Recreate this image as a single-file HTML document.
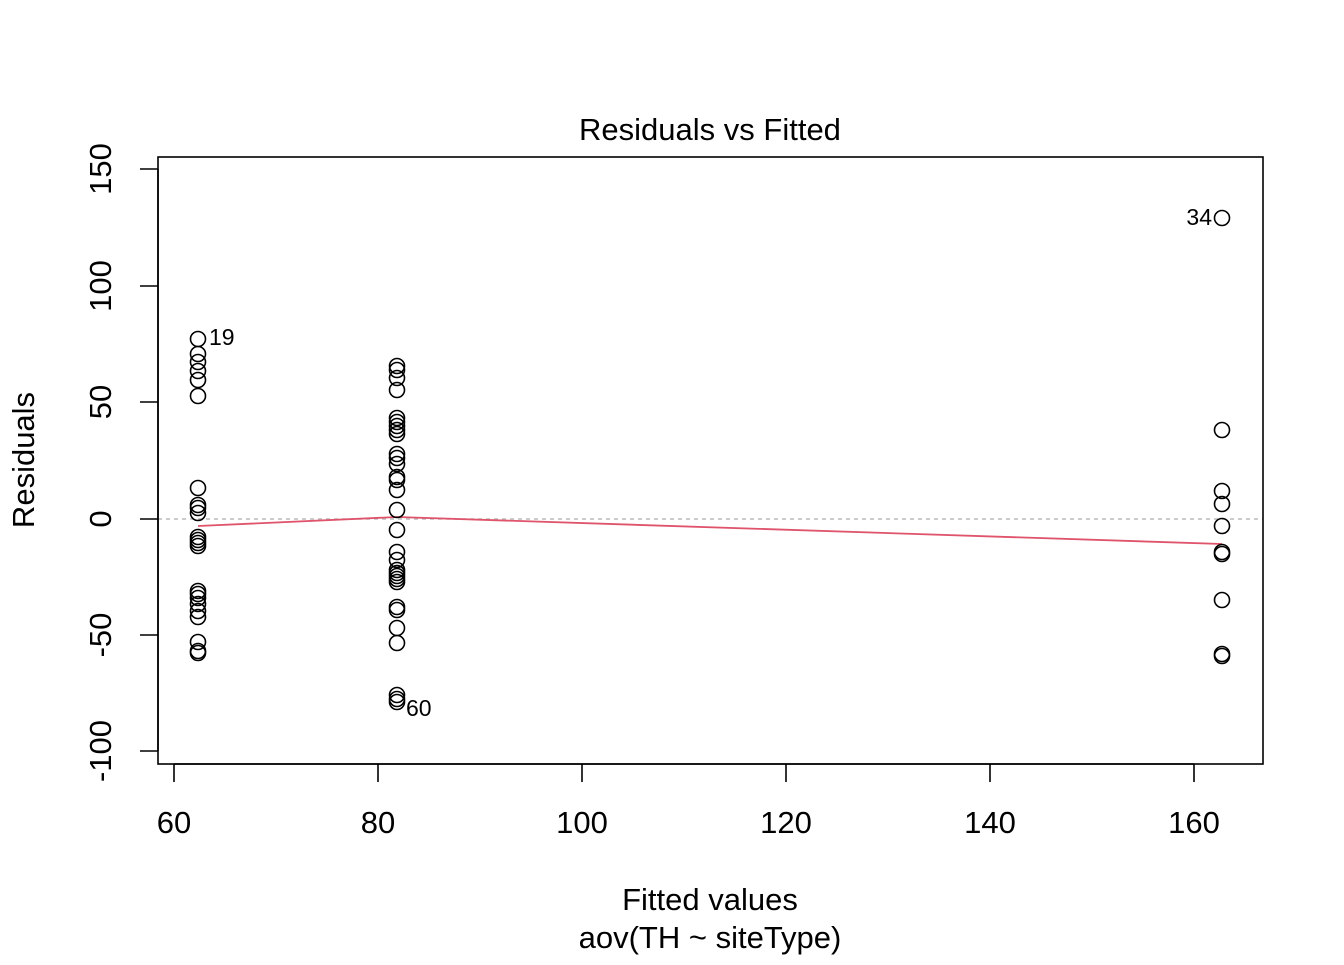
<!DOCTYPE html>
<html><head><meta charset="utf-8"><style>body{margin:0;background:#fff}</style></head><body>
<svg width="1344" height="960" xmlns="http://www.w3.org/2000/svg" font-family="Liberation Sans, Arial, sans-serif">
<rect width="1344" height="960" fill="#fff"/>
<text x="710" y="140" font-size="31" text-anchor="middle">Residuals vs Fitted</text>
<line x1="158" y1="519" x2="1263" y2="519" stroke="#bbb" stroke-width="1.5" stroke-dasharray="4,4"/>
<polyline points="198,526 397,517 1222,544" fill="none" stroke="#DF536B" stroke-width="1.8"/>
<rect x="158" y="157" width="1105" height="607" fill="none" stroke="#000" stroke-width="1.6"/>
<g stroke="#000" stroke-width="1.6">
<line x1="174" y1="764" x2="1194" y2="764"/>
<line x1="174" y1="764" x2="174" y2="782"/><line x1="378" y1="764" x2="378" y2="782"/><line x1="582" y1="764" x2="582" y2="782"/><line x1="786" y1="764" x2="786" y2="782"/><line x1="990" y1="764" x2="990" y2="782"/><line x1="1194" y1="764" x2="1194" y2="782"/>
<line x1="158" y1="169" x2="158" y2="751"/>
<line x1="158" y1="169" x2="140" y2="169"/><line x1="158" y1="286" x2="140" y2="286"/><line x1="158" y1="402" x2="140" y2="402"/><line x1="158" y1="519" x2="140" y2="519"/><line x1="158" y1="635" x2="140" y2="635"/><line x1="158" y1="751" x2="140" y2="751"/>
</g>
<g font-size="31" text-anchor="middle">
<text x="174" y="833">60</text><text x="378" y="833">80</text><text x="582" y="833">100</text><text x="786" y="833">120</text><text x="990" y="833">140</text><text x="1194" y="833">160</text>
<text x="710" y="910">Fitted values</text>
<text x="710" y="948">aov(TH ~ siteType)</text>
</g>
<g font-size="31" text-anchor="middle">
<text transform="translate(111,169) rotate(-90)">150</text>
<text transform="translate(111,286) rotate(-90)">100</text>
<text transform="translate(111,402) rotate(-90)">50</text>
<text transform="translate(111,519) rotate(-90)">0</text>
<text transform="translate(111,635) rotate(-90)">-50</text>
<text transform="translate(111,751) rotate(-90)">-100</text>
<text transform="translate(34,460) rotate(-90)">Residuals</text>
</g>
<g font-size="23">
<text x="209" y="345">19</text>
<text x="406" y="716">60</text>
<text x="1212" y="225" text-anchor="end">34</text>
</g>
<g fill="none" stroke="#000" stroke-width="1.6">
<circle cx="198" cy="339" r="7.5"/><circle cx="198" cy="354" r="7.5"/><circle cx="198" cy="362" r="7.5"/><circle cx="198" cy="371" r="7.5"/><circle cx="198" cy="380" r="7.5"/><circle cx="198" cy="396" r="7.5"/><circle cx="198" cy="488" r="7.5"/><circle cx="198" cy="505" r="7.5"/><circle cx="198" cy="508" r="7.5"/><circle cx="198" cy="513" r="7.5"/><circle cx="198" cy="537" r="7.5"/><circle cx="198" cy="540" r="7.5"/><circle cx="198" cy="543" r="7.5"/><circle cx="198" cy="546" r="7.5"/><circle cx="198" cy="591" r="7.5"/><circle cx="198" cy="594" r="7.5"/><circle cx="198" cy="598" r="7.5"/><circle cx="198" cy="604" r="7.5"/><circle cx="198" cy="611" r="7.5"/><circle cx="198" cy="617" r="7.5"/><circle cx="198" cy="642" r="7.5"/><circle cx="198" cy="651" r="7.5"/><circle cx="198" cy="653" r="7.5"/>
<circle cx="397" cy="366" r="7.5"/><circle cx="397" cy="370" r="7.5"/><circle cx="397" cy="378" r="7.5"/><circle cx="397" cy="390" r="7.5"/><circle cx="397" cy="418" r="7.5"/><circle cx="397" cy="422" r="7.5"/><circle cx="397" cy="426" r="7.5"/><circle cx="397" cy="430" r="7.5"/><circle cx="397" cy="434" r="7.5"/><circle cx="397" cy="454" r="7.5"/><circle cx="397" cy="458" r="7.5"/><circle cx="397" cy="464" r="7.5"/><circle cx="397" cy="477" r="7.5"/><circle cx="397" cy="480" r="7.5"/><circle cx="397" cy="490" r="7.5"/><circle cx="397" cy="510" r="7.5"/><circle cx="397" cy="530" r="7.5"/><circle cx="397" cy="552" r="7.5"/><circle cx="397" cy="560" r="7.5"/><circle cx="397" cy="570" r="7.5"/><circle cx="397" cy="573" r="7.5"/><circle cx="397" cy="576" r="7.5"/><circle cx="397" cy="579" r="7.5"/><circle cx="397" cy="582" r="7.5"/><circle cx="397" cy="607" r="7.5"/><circle cx="397" cy="610" r="7.5"/><circle cx="397" cy="628" r="7.5"/><circle cx="397" cy="643" r="7.5"/><circle cx="397" cy="695" r="7.5"/><circle cx="397" cy="699" r="7.5"/><circle cx="397" cy="702" r="7.5"/>
<circle cx="1222" cy="218" r="7.5"/><circle cx="1222" cy="430" r="7.5"/><circle cx="1222" cy="491" r="7.5"/><circle cx="1222" cy="504" r="7.5"/><circle cx="1222" cy="526" r="7.5"/><circle cx="1222" cy="552" r="7.5"/><circle cx="1222" cy="554" r="7.5"/><circle cx="1222" cy="600" r="7.5"/><circle cx="1222" cy="654" r="7.5"/><circle cx="1222" cy="656" r="7.5"/>
</g>
</svg>
</body></html>
